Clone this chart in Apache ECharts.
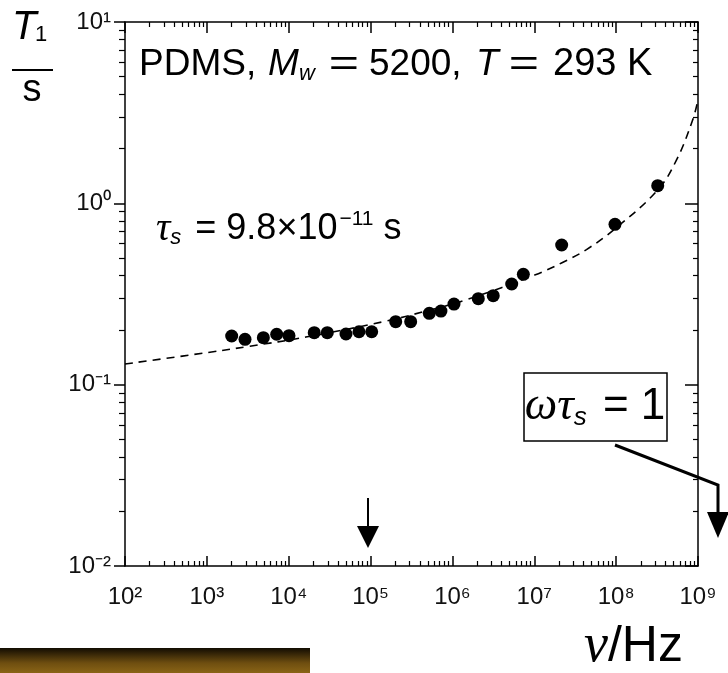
<!DOCTYPE html>
<html>
<head>
<meta charset="utf-8">
<script src="https://cdn.jsdelivr.net/npm/echarts@6/dist/echarts.min.js"></script>
<style>
html, body { margin: 0; padding: 0; background: #fff; }
#chart { width: 728px; height: 673px; }
</style>
</head>
<body>
<div id="chart"></div>
<script>
// measured points: frequency / Hz and T1 / s
var freqHz = [2010, 2925, 4900, 7130, 10080, 20500, 29600, 50100, 72200, 103200,
	202800, 309000, 521900, 724000, 1.045e6, 2.07e6, 3.15e6, 5.30e6, 7.35e6,
	2.16e7, 9.68e7, 3.22e8];
var t1Sec = [0.1855, 0.1778, 0.1816, 0.1897, 0.1862, 0.1935, 0.1935, 0.1903, 0.1958, 0.1958,
	0.2224, 0.2224, 0.2474, 0.2547, 0.2784, 0.2979, 0.3095, 0.3590, 0.4061,
	0.589, 0.766, 1.251];

// dashed fit curve
var fitHz = [100, 1090, 3360, 16200, 153800, 435000, 1.54e6, 1.01e7, 2.15e7,
	4.34e7, 9.6e7, 3.19e8, 5.45e8, 8.6e8, 1e9];
var fitT1 = [0.130, 0.151, 0.163, 0.183, 0.224, 0.252, 0.296, 0.402, 0.469,
	0.556, 0.722, 1.18, 1.73, 2.88, 3.72];

// axis ticks
var xMajor = [1e2, 1e3, 1e4, 1e5, 1e6, 1e7, 1e8, 1e9];
var yMajor = [0.01, 0.1, 1, 10];

function minorsOf(majors) {
	var out = [];
	for (var i = 0; i < majors.length - 1; i++) {
		for (var m = 2; m <= 9; m++) {
			out.push(+(m * majors[i]).toPrecision(6));
		}
	}
	return out;
}

var SUP = { '0': '\u2070', '1': '\u00b9', '2': '\u00b2', '3': '\u00b3', '4': '\u2074',
	'5': '\u2075', '6': '\u2076', '7': '\u2077', '8': '\u2078', '9': '\u2079', '-': '\u207b' };

function powLabel(v) {
	var e = String(Math.round(Math.log10(v)));
	var s = '';
	for (var i = 0; i < e.length; i++) {
		s += SUP[e[i]];
	}
	return '10' + s;
}

var SANS = "'Liberation Sans', Arial, sans-serif";
var SERIF = "'Liberation Serif', 'Times New Roman', serif";

function pairs(xs, ys) {
	var d = [];
	for (var i = 0; i < xs.length; i++) {
		d.push([xs[i], ys[i]]);
	}
	return d;
}

function tickAxis(base, extra) {
	var a = {
		type : 'log',
		logBase : 10,
		gridIndex : 0,
		offset : 0,
		axisLine : { show : false },
		axisLabel : { show : false },
		splitLine : { show : false },
		axisTick : { show : true, inside : true, length : 5,
			lineStyle : { color : '#000', width : 1.2 } }
	};
	for (var k in base) a[k] = base[k];
	for (var k in extra) a[k] = extra[k];
	return a;
}

// plain text piece for the annotations
function txt(str, x, y, font, align) {
	return { type : 'text', style : { text : str, x : x, y : y, font : font,
		fill : '#000', align : align || 'left', verticalAlign : 'middle' } };
}

// wide math "=" (stretched sideways like the equation editor one)
function eq(cx, cy, size) {
	return { type : 'text', x : cx, y : cy, scaleX : 1.4,
		style : { text : '=', x : 0, y : 0, font : size + 'px ' + SANS,
			fill : '#000', align : 'center', verticalAlign : 'middle' } };
}

var xRange = { min : 1e2, max : 1e9 };
var yRange = { min : 0.01, max : 10 };

var myChart = echarts.init(document.getElementById('chart'));

var option = {
	animation : false,
	grid : { left : 125, right : 30, top : 22, bottom : 107 },
	xAxis : [
		// bottom, with labels
		tickAxis(xRange, {
			position : 'bottom',
			axisLine : { show : true, onZero : false, lineStyle : { color : '#000', width : 1.5 } },
			axisTick : { show : true, inside : true, length : 10, customValues : xMajor,
				lineStyle : { color : '#000', width : 1.5 } },
			axisLabel : { show : true, customValues : xMajor, margin : 19, formatter : powLabel,
				color : '#111', fontSize : 24, fontFamily : SANS }
		}),
		tickAxis(xRange, { position : 'bottom',
			axisTick : { show : true, inside : true, length : 5, customValues : minorsOf(xMajor),
				lineStyle : { color : '#000', width : 1.2 } } }),
		// top frame
		tickAxis(xRange, {
			position : 'top',
			axisLine : { show : true, onZero : false, lineStyle : { color : '#000', width : 1.5 } },
			axisTick : { show : true, inside : true, length : 11, customValues : xMajor,
				lineStyle : { color : '#000', width : 1.5 } }
		}),
		tickAxis(xRange, { position : 'top',
			axisTick : { show : true, inside : true, length : 5, customValues : minorsOf(xMajor),
				lineStyle : { color : '#000', width : 1.2 } } })
	],
	yAxis : [
		// left, with labels, ticks outside
		tickAxis(yRange, {
			position : 'left',
			axisLine : { show : true, onZero : false, lineStyle : { color : '#000', width : 1.5 } },
			axisTick : { show : true, inside : false, length : 11, customValues : yMajor,
				lineStyle : { color : '#000', width : 1.5 } },
			axisLabel : { show : true, customValues : yMajor, margin : 14, formatter : powLabel,
				color : '#111', fontSize : 24, fontFamily : SANS }
		}),
		tickAxis(yRange, { position : 'left',
			axisTick : { show : true, inside : false, length : 6, customValues : minorsOf(yMajor),
				lineStyle : { color : '#000', width : 1.2 } } }),
		// right frame
		tickAxis(yRange, {
			position : 'right',
			axisLine : { show : true, onZero : false, lineStyle : { color : '#000', width : 1.5 } },
			axisTick : { show : true, inside : true, length : 13, customValues : yMajor,
				lineStyle : { color : '#000', width : 1.5 } }
		}),
		tickAxis(yRange, { position : 'right',
			axisTick : { show : true, inside : true, length : 5, customValues : minorsOf(yMajor),
				lineStyle : { color : '#000', width : 1.2 } } })
	],
	series : [ {
		name : 'fit',
		type : 'line',
		xAxisIndex : 0,
		yAxisIndex : 0,
		data : pairs(fitHz, fitT1),
		smooth : 0.4,
		showSymbol : false,
		lineStyle : { color : '#000', width : 1.6, type : [8, 6] },
		z : 2
	}, {
		name : 'T1',
		type : 'scatter',
		xAxisIndex : 0,
		yAxisIndex : 0,
		data : pairs(freqHz, t1Sec),
		symbol : 'circle',
		symbolSize : 13,
		itemStyle : { color : '#000', opacity : 1 },
		z : 3
	} ],
	graphic : [
		// y axis title T1 / s
		txt('T', 12, 28, 'italic 40px ' + SANS),
		txt('1', 35, 35, '22px ' + SANS),
		{ type : 'line', shape : { x1 : 12, y1 : 70, x2 : 53, y2 : 70 },
			style : { stroke : '#000', lineWidth : 2 } },
		txt('s', 32, 91, '38px ' + SANS, 'center'),
		// sample caption, pieces placed as in the original
		txt('PDMS,', 139, 65, '37px ' + SANS),
		txt('M', 268, 65, 'italic 37px ' + SANS),
		txt('w', 299, 74, 'italic 22px ' + SANS),
		eq(344, 65, 37),
		txt('5200,', 369, 65, '37px ' + SANS),
		txt('T', 476, 65, 'italic 37px ' + SANS),
		eq(524, 65, 37),
		txt('293 K', 553, 65, '38px ' + SANS),
		// tau_s
		{ type : 'text', style : {
			x : 156, y : 229, align : 'left', verticalAlign : 'middle',
			text : '{t|\u03c4}{s|s}{n| = 9.8\u00d710}{e|\u221211}{n| s}',
			rich : {
				t : { fontSize : 40, fontFamily : SERIF, fontStyle : 'italic', color : '#000', lineHeight : 40 },
				s : { fontSize : 22, fontFamily : SANS, fontStyle : 'italic', color : '#000',
					lineHeight : 40, verticalAlign : 'bottom', padding : [16, 4, 0, 0] },
				n : { fontSize : 36, fontFamily : SANS, color : '#000', lineHeight : 40 },
				e : { fontSize : 21, fontFamily : SANS, color : '#000', lineHeight : 40,
					verticalAlign : 'top', padding : [0, 0, 16, 2] }
			}
		} },
		// omega tau = 1 box
		{ type : 'rect', shape : { x : 524, y : 373, width : 143, height : 68 },
			style : { fill : 'none', stroke : '#000', lineWidth : 1.5 } },
		{ type : 'text', style : {
			x : 595, y : 407, align : 'center', verticalAlign : 'middle',
			text : '{g|\u03c9\u03c4}{s|s}{n| = 1}',
			rich : {
				g : { fontSize : 46, fontFamily : SERIF, fontStyle : 'italic', color : '#000', lineHeight : 48 },
				s : { fontSize : 26, fontFamily : SANS, fontStyle : 'italic', color : '#000',
					lineHeight : 48, verticalAlign : 'bottom', padding : [18, 4, 0, 0] },
				n : { fontSize : 44, fontFamily : SANS, color : '#000', lineHeight : 48 }
			}
		} },
		// arrows
		{ type : 'polyline', shape : { points : [[615, 445], [718, 485], [718, 516]] },
			style : { stroke : '#000', lineWidth : 3, fill : null } },
		{ type : 'polygon', shape : { points : [[707, 512], [729, 512], [718, 538]] },
			style : { fill : '#000' } },
		{ type : 'line', shape : { x1 : 368, y1 : 498, x2 : 368, y2 : 530 },
			style : { stroke : '#000', lineWidth : 2 } },
		{ type : 'polygon', shape : { points : [[357, 526], [379, 526], [368, 548]] },
			style : { fill : '#000' } },
		// x axis title
		{ type : 'text', style : {
			x : 584, y : 647, align : 'left', verticalAlign : 'middle',
			text : '{v|\u03bd}{n|/Hz}',
			rich : {
				v : { fontSize : 54, fontFamily : SERIF, fontStyle : 'italic', color : '#000', lineHeight : 54 },
				n : { fontSize : 50, fontFamily : SANS, color : '#000', lineHeight : 54 }
			}
		} },
		// slide strip bottom-left
		{ type : 'rect', shape : { x : 0, y : 648, width : 310, height : 25 },
			style : { fill : new echarts.graphic.LinearGradient(0, 0, 0, 1, [
				{ offset : 0, color : '#120c02' },
				{ offset : 0.6, color : '#6e4e10' },
				{ offset : 1, color : '#8a6416' }
			]) } }
	]
};

myChart.setOption(option);
</script>
</body>
</html>
